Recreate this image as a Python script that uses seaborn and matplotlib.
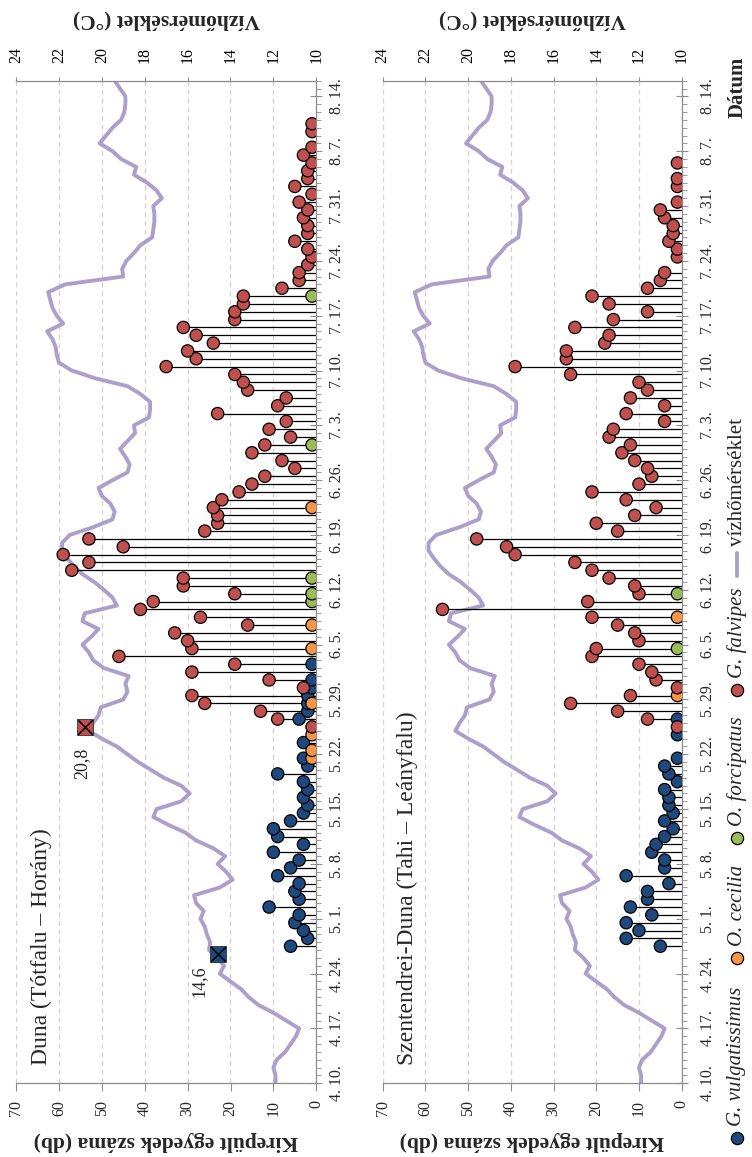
import matplotlib
matplotlib.use("Agg")
import matplotlib.pyplot as plt
from matplotlib.lines import Line2D
from matplotlib.ticker import MultipleLocator
import pandas as pd
import seaborn as sns

sns.set_theme(style="white")
plt.rcParams["font.family"] = ["Liberation Serif", "DejaVu Serif"]

SEASON_START = pd.Timestamp("2000-04-10")

# Daily water temperature (°C), 10 April - 16 August
water_temp = [
    11.9, 11.9, 12.0, 11.85, 11.45, 11.2, 10.95, 10.8, 11.4, 12.0,
    12.7, 13.15, 13.5, 14.0, 14.5, 14.3, 14.6, 15.0, 14.95, 15.1,
    15.2, 15.4, 15.25, 15.6, 15.7, 14.5, 13.9, 14.2, 14.6, 14.25,
    14.8, 15.6, 16.1, 16.9, 17.6, 17.45, 16.3, 15.9, 16.3, 17.1,
    17.7, 18.3, 18.8, 19.3, 20.0, 20.6, 20.4, 20.15, 20.05, 19.0,
    18.8, 18.9, 18.75, 19.9, 20.4, 20.6, 20.9, 20.5, 20.15, 20.9,
    20.8, 19.3, 19.5, 19.9, 20.35, 20.9, 21.3, 21.6, 21.85, 21.85,
    21.5, 20.4, 19.5, 19.4, 19.6, 20.0, 20.15, 19.5, 18.8, 18.7,
    18.9, 19.15, 18.8, 18.45, 18.5, 17.8, 17.75, 17.75, 18.2, 18.8,
    20.3, 21.4, 22.0, 22.1, 22.15, 22.3, 22.55, 21.8, 22.1, 22.3,
    22.4, 22.5, 21.7, 19.0, 19.05, 18.85, 18.5, 18.2, 17.65, 17.6,
    17.55, 17.55, 17.6, 17.2, 17.45, 17.9, 18.5, 18.4, 19.1, 19.5,
    20.1, 19.8, 19.5, 19.1, 18.95, 18.9, 18.9, 19.15, 19.4,
]

date_ticks = ["04-10", "04-17", "04-24", "05-01", "05-08", "05-15", "05-22",
              "05-29", "06-05", "06-12", "06-19", "06-26", "07-03", "07-10",
              "07-17", "07-24", "07-31", "08-07", "08-14"]
date_tick_labels = ["4. 10.", "4. 17.", "4. 24.", "5. 1.", "5. 8.", "5. 15.",
                    "5. 22.", "5. 29.", "6. 5.", "6. 12.", "6. 19.", "6. 26.",
                    "7. 3.", "7. 10.", "7. 17.", "7. 24.", "7. 31.", "8. 7.",
                    "8. 14."]

species_names = ["G. vulgatissimus", "O. cecilia", "O. forcipatus", "G. falvipes"]
species_colors = ["#1F497D", "#F79646", "#9BBB59", "#C0504D"]
temp_color = "#AC9FCB"

# ---- Duna (Tótfalu – Horány): emerged individuals per day ----
duna_gv_first = "04-27"
duna_gv_counts = [6, 2, 3, 5, 4, 11, 4, 5, 4, 9, 6, 4, 10, 3, 9, 10, 6, 3, 2,
                  3, 2, 3, 9, 2, 3, 0, 3, 0, 0, 4, 2, 2, 2, 1, 1, 0, 1]
duna_oc_dates = ["05-21", "05-22", "05-24", "05-28", "06-04", "06-07", "06-22"]
duna_oc_counts = [1, 1, 1, 1, 1, 1, 1]
duna_of_dates = ["06-10", "06-11", "06-13", "06-30", "07-19"]
duna_of_counts = [1, 1, 1, 1, 1]
duna_gf_first = "05-25"
duna_gf_counts = [1, 9, 13, 26, 29, 3, 11, 29, 19, 46,
                  29, 30, 33, 16, 27, 41, 38, 19, 31, 31,
                  57, 53, 59, 45, 53, 26, 23, 23, 24, 22,
                  18, 15, 12, 5, 8, 15, 12, 6, 11, 7,
                  23, 9, 7, 16, 17, 19, 35, 28, 30, 24,
                  28, 31, 19, 19, 17, 17, 8, 4, 4, 2,
                  1, 2, 5, 2, 2, 3, 2, 4, 1, 5,
                  2, 2, 1, 3, 1, 0, 1, 1]

# first emergence on the Duna, with the water temperature of that day
first_species = ["G. vulgatissimus", "G. falvipes"]
first_dates = ["04-26", "05-25"]
first_temps = [14.6, 20.8]

# ---- Szentendrei-Duna (Tahi – Leányfalu) ----
szd_gv_first = "04-27"
szd_gv_counts = [5, 13, 10, 13, 7, 12, 8, 8, 3, 13, 4, 4, 7, 6, 4, 2, 4, 2,
                 3, 3, 4, 1, 3, 4, 1, 0, 0, 1, 0, 1]
szd_oc_dates = ["05-29", "06-08"]
szd_oc_counts = [1, 1]
szd_of_dates = ["06-04", "06-11"]
szd_of_counts = [1, 1]
szd_gf_first = "05-25"
szd_gf_counts = [1, 8, 15, 26, 12, 1, 6, 7, 10, 21,
                 20, 10, 11, 15, 21, 56, 22, 10, 11, 17,
                 21, 25, 39, 41, 48, 15, 20, 11, 6, 13,
                 21, 10, 7, 8, 11, 14, 12, 17, 16, 4,
                 13, 4, 12, 8, 10, 26, 39, 27, 27, 18,
                 17, 25, 16, 8, 17, 21, 8, 5, 4, 0,
                 1, 1, 3, 2, 2, 4, 5, 1, 0, 1,
                 1, 0, 1]


def day_of(mmdd):
    return (pd.Timestamp(f"2000-{mmdd}") - SEASON_START).days


def run_rows(species, first, counts):
    d0 = day_of(first)
    return [(species, d0 + i, c) for i, c in enumerate(counts) if c > 0]


def list_rows(species, dates, counts):
    return [(species, day_of(d), c) for d, c in zip(dates, counts)]


def catch_frame(rows):
    df = pd.DataFrame(rows, columns=["species", "day", "count"])
    df["pos"] = df["day"] + 0.5          # a day's catch sits mid-day
    return df


duna_df = catch_frame(
    run_rows(species_names[0], duna_gv_first, duna_gv_counts)
    + list_rows(species_names[1], duna_oc_dates, duna_oc_counts)
    + list_rows(species_names[2], duna_of_dates, duna_of_counts)
    + run_rows(species_names[3], duna_gf_first, duna_gf_counts))
szd_df = catch_frame(
    run_rows(species_names[0], szd_gv_first, szd_gv_counts)
    + list_rows(species_names[1], szd_oc_dates, szd_oc_counts)
    + list_rows(species_names[2], szd_of_dates, szd_of_counts)
    + run_rows(species_names[3], szd_gf_first, szd_gf_counts))

temp_df = pd.DataFrame({"day": range(len(water_temp)), "temp": water_temp})
palette = dict(zip(species_names, species_colors))

# ---- figure: time runs upwards, counts grow to the left ----
W, H = 752, 1157
Y_TOP, Y_BOT = 80.7, 1083.3
GRAY = "#8C8C8C"
fig = plt.figure(figsize=(W / 100, H / 100), dpi=100)


def rect(x0, x1):
    return [x0 / W, 1 - Y_BOT / H, (x1 - x0) / W, (Y_BOT - Y_TOP) / H]


panels = [
    ("Duna (Tótfalu – Horány)", duna_df, 16.0, 316.3, 41, 5.0, True),
    ("Szentendrei-Duna (Tahi – Leányfalu)", szd_df, 382.7, 681.7, 407, 9.5, False),
]

for title, df, x0, x1, title_x, date_pad, show_first in panels:
    ax = fig.add_axes(rect(x0, x1))
    ax2 = ax.twiny()
    ax.set_zorder(3)
    ax2.set_zorder(2)
    ax.patch.set_visible(False)

    # water temperature on the top axis
    sns.lineplot(data=temp_df, x="temp", y="day", ax=ax2, sort=False,
                 estimator=None, orient="y", color=temp_color, lw=2.8)
    ax2.set_xlim(24, 10)
    ax2.set_xticks(range(10, 25, 2))
    ax2.grid(axis="x", color="#D2D2D2", linestyle=(0, (4, 3)), lw=0.9)
    ax2.set_xlabel("")
    ax2.set_ylabel("")
    ax2.tick_params(axis="x", top=True, bottom=False, direction="out",
                    length=3, width=0.8, color=GRAY, labelsize=11.5,
                    labelrotation=90, pad=9.5, labelcolor="black")
    for side, sp in ax2.spines.items():
        sp.set_visible(side == "top")
        sp.set_color(GRAY)
        sp.set_linewidth(0.9)

    # daily counts: stems from zero plus coloured dots
    ax.hlines(df["pos"], 0, df["count"], colors="black", lw=0.9, zorder=1)
    sns.scatterplot(data=df, x="count", y="pos", hue="species",
                    hue_order=species_names, palette=palette, s=78,
                    edgecolor="black", linewidth=0.9, legend=False, ax=ax,
                    zorder=3)
    ax.set_xlim(70, 0)
    ax.set_ylim(0, 128)
    ax.set_xticks(range(0, 71, 10))
    ax.set_xlabel("")
    ax.set_ylabel("")
    ax.tick_params(axis="x", bottom=True, top=False, direction="out",
                   length=5.5, width=0.8, color=GRAY, labelsize=11.5,
                   labelrotation=90, pad=6.5)
    ax.yaxis.tick_right()
    ax.set_yticks([day_of(t) for t in date_ticks])
    ax.set_yticklabels(date_tick_labels, rotation=90, va="center")
    ax.yaxis.set_minor_locator(MultipleLocator(1))
    ax.tick_params(axis="y", which="major", direction="inout", length=8,
                   width=0.8, color=GRAY, labelsize=11.5, pad=date_pad,
                   left=False, right=True)
    ax.tick_params(axis="y", which="minor", direction="out", length=3.5,
                   width=0.6, color=GRAY, left=False, right=True)
    for side, sp in ax.spines.items():
        sp.set_visible(side in ("bottom", "right"))
        sp.set_color(GRAY)
        sp.set_linewidth(0.9)

    if show_first:
        first_pos = [day_of(d) + 0.5 for d in first_dates]
        for sp_name, t, p in zip(first_species, first_temps, first_pos):
            ax2.scatter([t], [p], marker="s", s=120, color=palette[sp_name],
                        edgecolor="#303030", linewidth=0.6, zorder=5)
            ax2.scatter([t], [p], marker="x", s=110, color="black",
                        linewidth=1.1, zorder=6)
        offsets = [(-13.7, -19.5), (-2.2, -26)]
        for t, p, off in zip(first_temps, first_pos, offsets):
            ax2.annotate(f"{t:.1f}".replace(".", ","), xy=(t, p), xytext=off,
                         textcoords="offset points", rotation=90,
                         ha="center", va="center", fontsize=13)

    cx = (x0 + x1) / 2
    fig.text(title_x / W, 1 - 1065 / H, title, rotation=90, ha="center",
             va="bottom", fontsize=17)
    fig.text(cx / W, 1 - 1141 / H, "Kirepült egyedek száma (db)",
             rotation=180, ha="center", va="center", fontsize=15.5,
             fontweight="bold")
    fig.text(cx / W, 1 - 19.5 / H, "Vízhőmérséklet (°C)", rotation=180,
             ha="center", va="center", fontsize=15.5, fontweight="bold")

fig.text(738 / W, 1 - 87 / H, "Dátum", rotation=90, ha="center",
         va="center", fontsize=15, fontweight="bold")

# legend along the right edge
LX = 737
legend_marks = [1138, 958, 838, 690]
legend_text_start = [1126, 946, 826, 678]
for name, col, ym, yt in zip(species_names, species_colors, legend_marks,
                             legend_text_start):
    fig.add_artist(Line2D([LX / W], [1 - ym / H], marker="o", ms=8.8,
                          mfc=col, mec="black", mew=0.9, ls="none",
                          transform=fig.transFigure))
    fig.text(LX / W, 1 - yt / H, name, rotation=90, ha="center",
             va="bottom", fontsize=15, style="italic")
fig.add_artist(Line2D([LX / W, LX / W], [1 - 576 / H, 1 - 553 / H],
                      color=temp_color, lw=2.8, transform=fig.transFigure))
fig.text(LX / W, 1 - 546 / H, "vízhőmérséklet", rotation=90, ha="center",
         va="bottom", fontsize=15)

fig.savefig("out.png", dpi=100)
